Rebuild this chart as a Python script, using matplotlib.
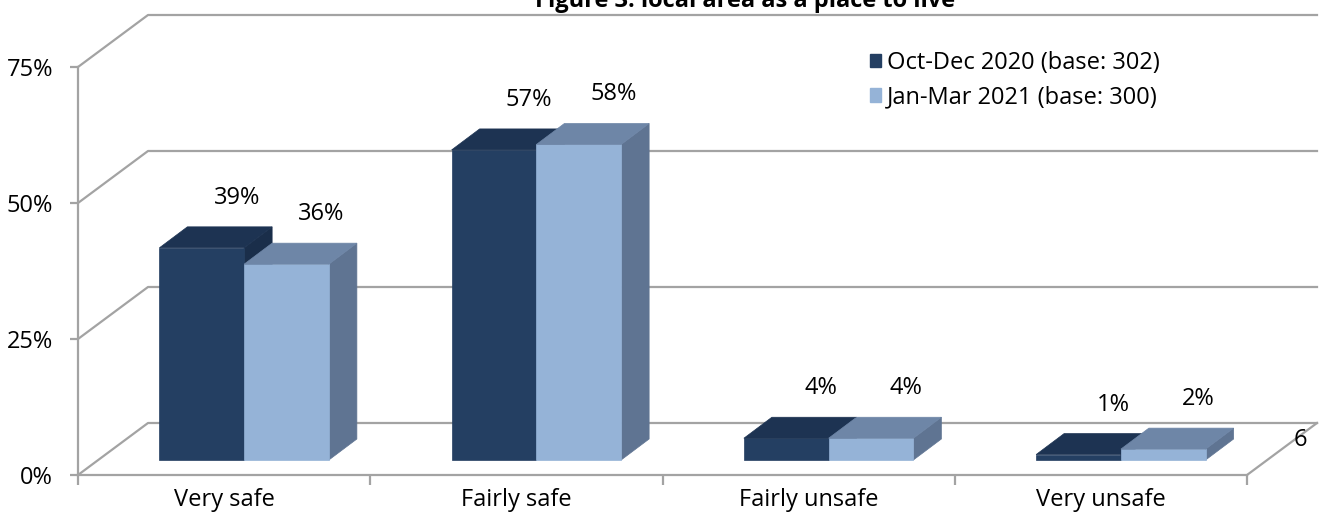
import numpy as np
import matplotlib
matplotlib.use('Agg')
import matplotlib.pyplot as plt
from matplotlib.patches import Polygon, Patch

categories = ['Very safe', 'Fairly safe', 'Fairly unsafe', 'Very unsafe']
oct_dec = [39, 57, 4, 1]
jan_mar = [36, 58, 4, 2]
series_names = ['Oct-Dec 2020 (base: 302)', 'Jan-Mar 2021 (base: 300)']
yticks = [0, 25, 50, 75]

plt.rcParams['font.family'] = ['Open Sans', 'DejaVu Sans']
FS = 17
grid_c = '#A3A3A3'
front_c = ['#243F62', '#95B3D7']
top_c = ['#1D3352', '#6E86A7']
side_c = ['#1A2E4A', '#5F7492']

# depth offsets in pixels (right, up) from the front plane
d_front = (20, 15)
d_back = (48, 36)
d_wall = (70, 52)

fig = plt.figure(figsize=(13.2, 5.22), dpi=100)
ax = fig.add_axes([78/1320, 47/522, 1169/1320, 408/522])
ax.set_xlim(0, 4)
ax.set_ylim(0, 75)
ax.patch.set_visible(False)

def px(x, y, d):
    p = ax.transData.transform((x, y))
    return (p[0] + d[0], p[1] + d[1])

def line(pts, **kw):
    xs, ys = zip(*pts)
    ax.add_line(plt.Line2D(xs, ys, transform=None, clip_on=False, color=grid_c, lw=1.6, **kw))

# walls / gridlines
for v in yticks:
    line([px(0, v, (0, 0)), px(0, v, d_wall), px(4, v, d_wall)], zorder=1)
line([px(4, 0, (0, 0)), px(4, 0, d_wall)], zorder=1)

def poly(pts, c, z):
    ax.add_patch(Polygon(pts, closed=True, transform=None, clip_on=False,
                         facecolor=c, edgecolor=c, lw=0.5, zorder=z))

w = 0.29
x = np.arange(len(categories)) + 0.5
for i, vals in enumerate([oct_dec, jan_mar]):
    for j, v in enumerate(vals):
        x0 = x[j] - w + i * w
        x1 = x0 + w
        poly([px(x0, 0, d_front), px(x1, 0, d_front), px(x1, v, d_front), px(x0, v, d_front)], front_c[i], 3 + i)
        poly([px(x0, v, d_front), px(x1, v, d_front), px(x1, v, d_back), px(x0, v, d_back)], top_c[i], 3 + i)
        poly([px(x1, 0, d_front), px(x1, 0, d_back), px(x1, v, d_back), px(x1, v, d_front)], side_c[i], 2 + i)
        ax.annotate(f'{v}%', xy=(x0 + w / 2, v), textcoords='offset pixels', xytext=(55, 65),
                    ha='center', va='center', fontsize=FS, annotation_clip=False)

for s in ['top', 'right']:
    ax.spines[s].set_visible(False)
for s in ['left', 'bottom']:
    ax.spines[s].set_color(grid_c)
    ax.spines[s].set_linewidth(1.6)
    ax.spines[s].set_zorder(2)

ax.set_yticks(yticks)
ax.set_yticklabels([f'{t}%' for t in yticks], fontsize=FS)
ax.tick_params(axis='y', length=6, width=1.6, color=grid_c, pad=12)
ax.set_xticks(x)
ax.set_xticklabels(categories, fontsize=FS)
ax.set_xticks(np.arange(5), minor=True)
ax.tick_params(axis='x', which='major', length=0, pad=9)
ax.tick_params(axis='x', which='minor', length=7, width=1.6, color=grid_c)

handles = [Patch(facecolor=front_c[k], edgecolor=front_c[k]) for k in range(2)]
fig.legend(handles, series_names, loc='upper left', bbox_to_anchor=(858/1320, 1 - 39/522),
           frameon=False, fontsize=FS, handlelength=0.48, handleheight=0.48,
           handletextpad=0.25, labelspacing=0.45, borderpad=0)

fig.text(745/1320, 1 - 7/522, 'Figure 3: local area as a place to live', ha='center',
         va='baseline', fontsize=17, fontweight='bold')
fig.text(1300/1320, 1 - 440/522, '6', ha='center', va='center', fontsize=FS)

fig.savefig('out.png', dpi=100)
